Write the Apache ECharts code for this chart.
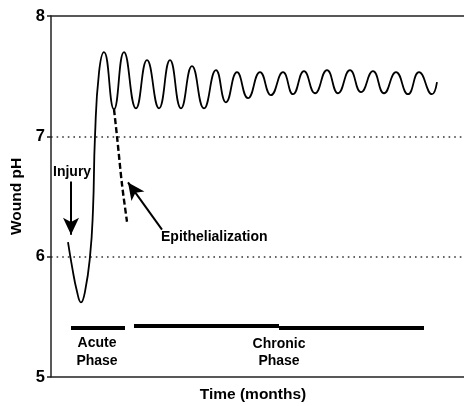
<!DOCTYPE html>
<html>
<head>
<meta charset="utf-8">
<style>html,body{margin:0;padding:0;background:#fff}#c{width:464px;height:406px}</style>
<script src="https://cdn.jsdelivr.net/npm/echarts@6/dist/echarts.min.js"></script>
</head>
<body>
<div id="c"></div>
<script>
// Time (arbitrary units) and wound pH
const phCurve = [
  [17,6.12],[21,5.92],[26,5.71],[30,5.62],[34,5.71],[39,6.0],[42,6.39],[44,7.0],[48,7.53],[53,7.70],
  [63,7.225],[73,7.70],[85,7.233],[96,7.633],[108,7.233],[119,7.633],[130,7.233],[141,7.583],
  [153,7.233],[165,7.55],[175,7.283],[186,7.533],[197,7.317],[209,7.533],[220,7.342],[232,7.533],
  [242,7.35],[253,7.542],[264,7.358],[276,7.55],[287,7.358],[299,7.55],[310,7.367],[322,7.542],
  [333,7.358],[345,7.533],[357,7.35],[368,7.533],[381,7.35],[386,7.45]
];
const epithelialization = [[63,7.225],[66,7.0],[71,6.6],[76,6.29]];
const injuryArrow = [[20,6.625],[20,6.183]];
const epiArrow = [[111,6.225],[77,6.617]];
const acutePhase = [[20,5.408],[74,5.408]];
const chronicPhase = [[[83,5.425],[228,5.425]],[[228,5.408],[373,5.408]]];
const yTicks = [5,6,7,8];

const FONT = '"Liberation Sans", Arial, sans-serif';
const chart = echarts.init(document.getElementById('c'), null, {renderer:'canvas'});
chart.setOption({
  animation:false,
  grid:{left:51,right:0,top:16,bottom:29,containLabel:false,outerBoundsMode:'none'},
  xAxis:[{
    type:'value',min:0,max:413,position:'bottom',
    name:'Time (months)',nameLocation:'middle',nameGap:10,
    nameTextStyle:{fontFamily:FONT,fontWeight:'bold',fontSize:15.5,color:'#000',padding:[0,9,0,0]},
    axisLine:{show:true,lineStyle:{color:'#222',width:1.5}},
    axisTick:{show:false},axisLabel:{show:false},splitLine:{show:false}
  },{
    type:'value',min:0,max:413,position:'top',
    axisLine:{show:true,lineStyle:{color:'#222',width:1.5}},
    axisTick:{show:false},axisLabel:{show:false},splitLine:{show:false}
  }],
  yAxis:{
    type:'value',min:yTicks[0],max:yTicks[yTicks.length-1],interval:1,
    name:'Wound pH',nameLocation:'middle',nameGap:25,
    nameTextStyle:{fontFamily:FONT,fontWeight:'bold',fontSize:15.5,color:'#000'},
    axisLine:{show:true,lineStyle:{color:'#222',width:1.5}},
    axisTick:{show:true,length:4,lineStyle:{color:'#222',width:1.5}},
    axisLabel:{fontFamily:FONT,fontWeight:'bold',fontSize:16.5,color:'#000',margin:6},
    splitLine:{show:true,showMinLine:false,showMaxLine:false,lineStyle:{color:'#333',width:1.6,type:[1.6,4]}}
  },
  series:[{
    type:'line',data:phCurve,smooth:0.5,symbol:'none',
    lineStyle:{color:'#000',width:1.8},z:3
  },{
    type:'line',data:epithelialization,smooth:0.3,symbol:'none',
    lineStyle:{color:'#000',width:2.4,type:[6,3]},z:3
  },{
    type:'line',data:[],symbol:'none',
    markLine:{
      silent:true,animation:false,
      label:{show:false},
      data:[
        [{coord:injuryArrow[0],symbol:'none'},{coord:injuryArrow[1],symbol:'arrow',symbolSize:[12,17]}],
        [{coord:epiArrow[0],symbol:'none'},{coord:epiArrow[1],symbol:'arrow',symbolSize:[12,17]}]
      ],
      lineStyle:{color:'#000',width:2,type:'solid'}
    }
  },{
    type:'line',data:[],symbol:'none',
    markLine:{
      silent:true,animation:false,symbol:'none',
      label:{show:false},
      lineStyle:{color:'#000',width:4,type:'solid'},
      data:[
        [{coord:acutePhase[0]},{coord:acutePhase[1]}],
        [{coord:chronicPhase[0][0]},{coord:chronicPhase[0][1]}],
        [{coord:chronicPhase[1][0]},{coord:chronicPhase[1][1]}]
      ]
    }
  }],
  graphic:[
    {type:'text',left:53,top:165,style:{text:'Injury',font:'bold 14px '+FONT,fill:'#000'}},
    {type:'text',left:161,top:230,style:{text:'Epithelialization',font:'bold 14px '+FONT,fill:'#000'}},
    {type:'text',x:97,y:334,style:{text:'Acute\nPhase',font:'bold 14px '+FONT,fill:'#000',align:'center',lineHeight:18}},
    {type:'text',x:279,y:336,style:{text:'Chronic\nPhase',font:'bold 14px '+FONT,fill:'#000',align:'center',lineHeight:17}}
  ]
});
</script>
</body>
</html>
